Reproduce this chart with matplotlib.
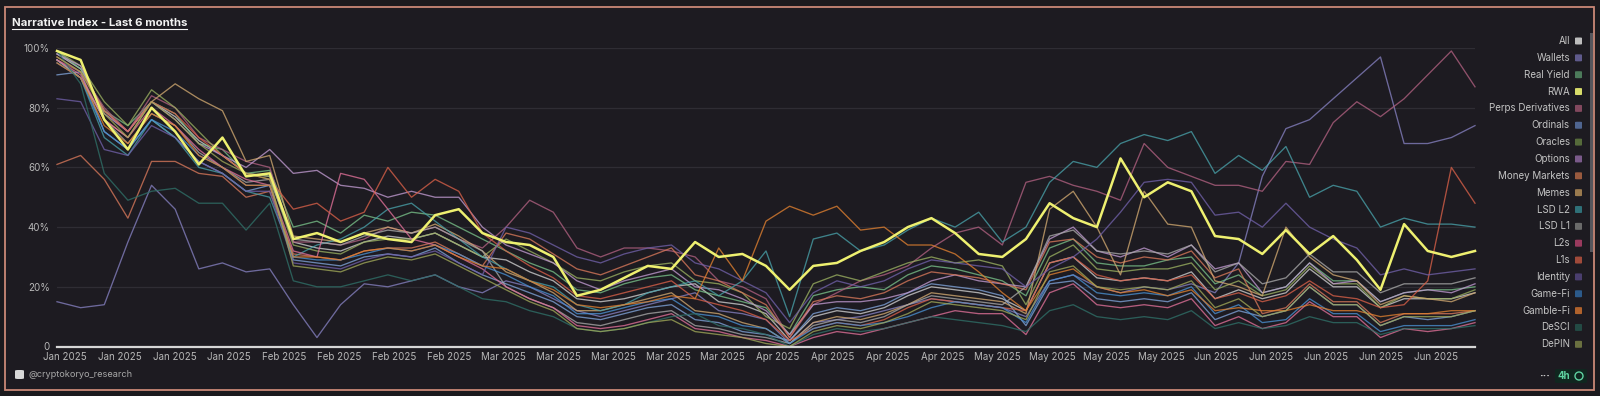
import matplotlib
matplotlib.use("Agg")
import matplotlib.pyplot as plt
import matplotlib.dates as mdates
from matplotlib.patches import Rectangle, FancyBboxPatch, Ellipse
from matplotlib.lines import Line2D
import pandas as pd

plt.rcParams['font.family'] = ['Inter', 'DejaVu Sans']

# ---- data (index values in %, one point every ~3 days) ----
dates = pd.date_range("2025-01-05", "2025-07-05", periods=61)

all_ = [98,93,79,72,82,77,69,64,58,57, 35,33,32,35,37,36,38,34,30, 29,25,22,16,15,16,18,20,21,15,14,11,
        2,10,12,11,13,17,20,19,18,16, 12,28,30,23,22,23,22,25,16,19, 16,18,26,20,20,13,16,16,16,18]
wallets = [15,13,14,35,54,46,26,28,25,26, 14,3,14,21,20,22,24,20,18, 22,20,16,12,10,12,14,16,18,12,11,9,
           1,8,9,10,12,14,16,15,14,13, 10,22,24,20,18,20,19,21,18,28, 57,73,76,83,90,97,68,68,70,74]
real_yield = [99,93,79,74,82,78,68,66,58,59, 40,42,38,44,42,45,44,40,36, 32,28,25,19,18,21,23,24,19,17,15,13,
              4,17,19,20,19,24,27,26,24,22, 17,33,36,28,27,27,29,30,21,24, 18,20,28,22,22,15,18,19,19,20]
rwa = [99,96,76,66,80,72,61,70,57,58, 36,38,35,38,36,35,44,46,38, 35,34,30,17,19,23,27,26,35,30,31,27,
       19,27,28,32,35,40,43,38,31,30, 36,48,43,40,63,50,55,52,37,36, 31,39,31,37,29,19,41,32,30,32]
perps = [96,92,80,72,84,80,70,66,62,60, 35,35,34,36,40,38,40,36,33, 40,49,45,33,30,33,33,32,30,22,20,16,
         3,14,18,22,24,27,33,38,40,34, 55,57,54,52,49,68,60,57,54,54, 52,62,61,75,82,77,83,91,99,87]
ordinals = [91,92,72,66,76,70,62,58,52,54, 29,28,27,30,31,30,33,28,24, 21,18,15,10,9,11,13,14,9,8,5,4,
            2,11,13,12,14,18,21,20,19,17, 7,21,22,16,15,16,15,18,9,12, 10,12,20,14,14,7,10,9,10,12]
oracles = [99,94,82,74,86,80,72,64,58,57, 34,32,31,35,36,36,38,34,30, 36,32,28,23,22,25,27,28,22,21,18,10,
           6,21,24,22,25,28,30,28,29,27, 14,30,34,26,25,26,26,28,19,22, 17,19,27,21,21,13,17,16,16,19]
options = [98,94,78,72,82,76,68,64,60,66, 58,59,54,53,50,52,50,50,40, 34,31,28,22,19,22,24,26,20,19,16,12,
           4,14,15,15,16,18,22,24,22,21, 20,36,40,32,30,33,30,34,26,28, 18,20,28,21,22,15,18,19,18,21]
money_markets = [61,64,56,43,62,62,58,57,50,52, 31,30,29,32,33,33,35,31,27, 38,36,31,26,24,27,30,33,24,22,18,14,
                 3,15,17,16,18,22,25,24,23,21, 19,35,36,30,28,30,29,32,23,26, 11,13,21,15,15,8,11,11,11,12]
memes = [96,90,76,70,82,88,83,79,62,64, 37,36,35,38,40,38,41,37,32, 25,22,18,12,12,14,16,18,12,11,8,6,
         1,8,10,9,11,14,18,17,16,15, 11,46,52,40,24,52,41,40,22,20, 17,40,30,24,22,14,17,16,15,18]
lsd_l2 = [96,90,70,64,76,70,60,58,52,50, 30,34,36,40,46,48,42,36,30, 26,22,20,14,12,14,18,20,22,17,22,32,
          10,36,38,32,34,39,43,40,45,35, 40,55,62,60,68,71,69,72,58,64, 59,67,50,54,52,40,43,41,41,40]
lsd_l1 = [96,90,76,68,78,74,65,60,55,56, 36,35,34,37,39,38,40,36,32, 20,16,13,8,7,9,11,12,7,6,4,3,
          1,7,9,8,10,14,17,16,15,14, 20,37,39,32,31,32,31,34,25,28, 21,23,31,25,25,18,21,21,21,23]
l2s = [96,91,76,70,80,74,66,60,56,54, 32,30,58,56,46,36,34,30,26, 20,16,13,7,6,7,9,11,6,5,3,2,
       0,3,5,4,6,8,10,12,11,11, 4,18,21,14,13,14,13,16,7,10, 6,8,15,10,10,3,6,5,6,8]
l1s = [97,92,79,72,82,78,70,64,58,56, 46,48,42,45,60,50,56,52,38, 32,27,23,17,16,18,20,22,16,14,12,9,
       2,6,8,7,9,13,16,15,14,13, 12,28,30,24,22,23,22,24,16,18, 15,17,22,17,16,13,14,22,60,48]
identity = [83,82,66,64,74,70,62,58,52,52, 28,27,26,29,31,30,32,28,24, 40,38,34,30,28,31,33,34,28,26,22,18,
            8,18,22,20,22,26,29,28,27,26, 20,26,30,36,45,55,56,55,44,45, 40,48,40,36,33,24,26,24,25,26]
game_fi = [95,90,72,66,76,72,64,60,54,54, 30,29,29,31,33,32,34,31,27, 24,20,17,11,11,13,15,16,11,10,7,6,
           1,6,8,7,8,10,13,15,14,13, 8,22,24,18,17,18,17,20,11,14, 8,9,16,11,11,5,7,7,7,9]
gamble_fi = [95,90,74,68,78,74,64,60,54,54, 30,30,29,32,33,32,34,30,27, 26,22,19,14,13,14,15,17,16,33,22,42,
             47,44,47,39,40,34,34,31,25,18, 12,24,26,20,18,19,17,19,12,13, 12,12,14,12,12,10,11,11,12,12]
desci = [99,88,58,49,52,53,48,48,39,48, 22,20,20,22,24,22,24,20,16, 15,12,10,6,5,6,8,10,11,7,6,4,
         0,4,6,5,6,8,10,9,8,7, 5,12,14,10,9,10,9,12,6,8, 6,7,10,8,8,4,6,6,6,7]
depin = [97,92,78,70,82,76,68,62,58,56, 27,26,25,28,30,29,31,27,23, 19,15,12,6,5,6,8,9,5,4,3,1,
         0,5,7,6,8,11,15,14,13,12, 9,25,27,20,19,20,19,22,13,16, 10,12,20,14,14,7,10,10,10,12]

names = ["All", "Wallets", "Real Yield", "RWA", "Perps Derivatives", "Ordinals", "Oracles",
         "Options", "Money Markets", "Memes", "LSD L2", "LSD L1", "L2s", "L1s", "Identity",
         "Game-Fi", "Gamble-Fi", "DeSCI", "DePIN"]
values = [all_, wallets, real_yield, rwa, perps, ordinals, oracles, options, money_markets, memes,
          lsd_l2, lsd_l1, l2s, l1s, identity, game_fi, gamble_fi, desci, depin]
colors = ["#d0d0d0", "#8580c0", "#78c088", "#eef070", "#b06080", "#7fa3d8", "#9ab060",
          "#c09ad0", "#d8785a", "#d0a870", "#48a0a8", "#a8a8a8", "#e07098", "#d86048",
          "#7060a8", "#4a90d0", "#e08030", "#2f7068", "#a0a858"]
swatch = ["#bdbdbd", "#5f5a8c", "#4c7a5a", "#d8dc6a", "#82485e", "#4f6590", "#556a3a",
          "#7a5a8a", "#9a5a3e", "#9a7a4e", "#2f7078", "#6a6a6a", "#9a3a5e", "#a04a3a",
          "#4a3e6e", "#2c5a8a", "#b0622c", "#234a44", "#6a7040"]

W, H = 1600, 396
def fx(x): return x / W
def fy(y): return 1 - y / H

bg = "#1d1b21"
fig = plt.figure(figsize=(16, 3.96), dpi=100, facecolor="#1b1a1e")
fig.add_artist(Rectangle((fx(5), fy(390)), fx(1594) - fx(5), fy(6.5) - fy(390),
                         transform=fig.transFigure, facecolor=bg, edgecolor="#c98877", lw=1.3,
                         zorder=-5))

ax = fig.add_axes([fx(57), fy(346.5), fx(1475) - fx(57), fy(48) - fy(346.5)])
ax.set_facecolor("none")
ax.set_zorder(2)

for n, v, c in zip(names, values, colors):
    if n == "RWA":
        continue
    ax.plot(dates, v, color=c, lw=0.95, alpha=0.78, clip_on=False)
ax.plot(dates, rwa, color=colors[3], lw=1.8, clip_on=False, zorder=5)

ax.set_xlim(dates[0], dates[-1])
ax.set_ylim(0, 100)
ax.set_yticks([0, 20, 40, 60, 80, 100])
ax.set_yticklabels(["0", "20%", "40%", "60%", "80%", "100%"])
ax.xaxis.set_major_locator(mdates.WeekdayLocator(byweekday=mdates.MO, interval=1))
ax.xaxis.set_major_formatter(mdates.DateFormatter("%b %Y"))
ax.tick_params(length=0, labelsize=7, labelcolor="#b8b8b8")
ax.tick_params(axis="x", pad=4)
ax.tick_params(axis="y", pad=5)
ax.yaxis.grid(True, color="#2f2d34", lw=0.9)
ax.set_axisbelow(True)
for s in ["top", "right", "left"]:
    ax.spines[s].set_visible(False)
ax.spines["bottom"].set_color("#d6d6d6")
ax.spines["bottom"].set_linewidth(1.6)

# title with underline
t = fig.text(fx(12), fy(23), "Narrative Index - Last 6 months", fontsize=8.2, fontweight="bold",
             color="#f2f2f2", va="center", ha="left")
fig.canvas.draw()
bb = t.get_window_extent().transformed(fig.transFigure.inverted())
fig.add_artist(Line2D([bb.x0, bb.x1], [bb.y0 - 0.002, bb.y0 - 0.002], transform=fig.transFigure,
                      color="#f2f2f2", lw=0.8))

# legend list
for k, (n, c) in enumerate(zip(names, swatch)):
    y = 41 + 16.85 * k
    fig.text(fx(1570), fy(y), n, ha="right", va="center", fontsize=7, color="#c4c4c4")
    fig.add_artist(FancyBboxPatch((fx(1575), fy(y + 3.5)), 7 / W, 7 / H,
                                  boxstyle="round,pad=0,rounding_size=0.0012",
                                  transform=fig.transFigure, facecolor=c, edgecolor="none"))
# scrollbar
fig.add_artist(Rectangle((fx(1589.5), fy(252)), 3 / W, (252 - 33) / H, transform=fig.transFigure,
                         facecolor="#56565c", edgecolor="none"))

# footer
fig.add_artist(FancyBboxPatch((fx(15), fy(379)), 9 / W, 9 / H, boxstyle="round,pad=0,rounding_size=0.002",
                              transform=fig.transFigure, facecolor="#d8d8d8", edgecolor="none"))
fig.text(fx(28), fy(374.5), "@cryptokoryo_research", fontsize=6.6, color="#a8a8a8", va="center")

# bottom right badge
fig.text(fx(1545), fy(376), "···", fontsize=8, color="#d0d0d0", va="center", ha="center", fontweight="bold")
fig.add_artist(FancyBboxPatch((fx(1555), fy(383)), 32 / W, 14 / H, boxstyle="round,pad=0,rounding_size=0.002",
                              transform=fig.transFigure, facecolor="#10261f", edgecolor="none"))
fig.text(fx(1564), fy(376), "4h", fontsize=7, color="#5fd0a0", va="center", ha="center", fontweight="bold")
fig.add_artist(Ellipse((fx(1579), fy(376)), 8 / W, 8 / H, transform=fig.transFigure, fill=False,
                       edgecolor="#5fd0a0", lw=1.0))

fig.savefig("out.png", dpi=100, facecolor=fig.get_facecolor())
